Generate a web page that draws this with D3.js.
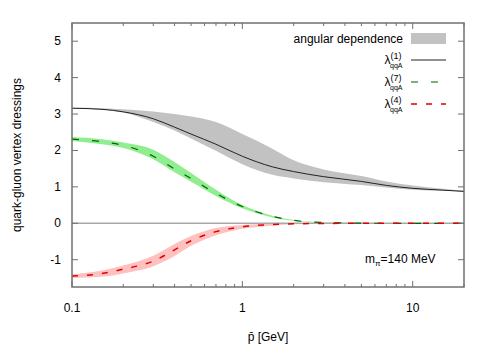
<!DOCTYPE html>
<html>
<head>
<meta charset="utf-8">
<script src="https://cdn.jsdelivr.net/npm/d3@7"></script>
<style>
  body { margin: 0; background: #fff; }
  text { font-family: "Liberation Sans", Arial, sans-serif; fill: #000; }
</style>
</head>
<body>
<svg id="chart" width="500" height="350"></svg>
<script>
// momentum grid [GeV]
const pGrid = [0.1, 0.15, 0.2, 0.3, 0.4, 0.5, 0.7, 1, 1.5, 2, 3, 5, 7, 10, 15, 20];

// lambda^(1) and its angular band
const lambda1   = [3.16, 3.13, 3.06, 2.87, 2.64, 2.45, 2.17, 1.84, 1.55, 1.42, 1.28, 1.15, 1.04, 0.96, 0.91, 0.875];
const lambda1Hi = [3.17, 3.16, 3.13, 3.07, 3.00, 2.93, 2.78, 2.45, 2.05, 1.73, 1.48, 1.30, 1.15, 1.04, 0.95, 0.90];
const lambda1Lo = [3.15, 3.12, 3.04, 2.78, 2.55, 2.33, 1.99, 1.62, 1.33, 1.23, 1.13, 1.05, 0.98, 0.92, 0.89, 0.87];

// lambda^(7)
const lambda7   = [2.31, 2.24, 2.14, 1.84, 1.49, 1.23, 0.82, 0.46, 0.19, 0.08, 0.02, 0.003, 0, 0, 0, 0];
const lambda7Hi = [2.37, 2.31, 2.22, 2.02, 1.68, 1.38, 0.92, 0.50, 0.21, 0.09, 0.025, 0.005, 0, 0, 0, 0];
const lambda7Lo = [2.26, 2.17, 2.07, 1.76, 1.40, 1.14, 0.75, 0.41, 0.16, 0.07, 0.015, 0.002, 0, 0, 0, 0];

// lambda^(4)
const lambda4   = [-1.45, -1.38, -1.26, -1.04, -0.73, -0.48, -0.23, -0.095, -0.035, -0.015, -0.005, 0, 0, 0, 0, 0];
const lambda4Hi = [-1.40, -1.30, -1.16, -0.89, -0.57, -0.35, -0.13, -0.045, -0.012, -0.004, 0, 0, 0, 0, 0, 0];
const lambda4Lo = [-1.50, -1.47, -1.38, -1.18, -0.90, -0.62, -0.33, -0.15, -0.065, -0.03, -0.01, 0, 0, 0, 0, 0];

const xTickLabels = [0.1, 1, 10];
const yTicks = [-1, 0, 1, 2, 3, 4, 5];

const svg = d3.select("#chart"),
      margin = {left: 72, right: 36, top: 23, bottom: 63},
      width = 500 - margin.left - margin.right,
      height = 350 - margin.top - margin.bottom;

const x = d3.scaleLog().domain([0.1, 20]).range([margin.left, margin.left + width]);
const y = d3.scaleLinear().domain([-1.75, 5.5]).range([margin.top + height, margin.top]);

const g = svg.append("g");

function rows(mid, lo, hi) {
    return pGrid.map((p, i) => ({p: p, v: mid[i], lo: lo[i], hi: hi[i]}));
}

const area = d3.area()
    .curve(d3.curveMonotoneX)
    .x(d => x(d.p))
    .y0(d => y(d.lo))
    .y1(d => y(d.hi));

const line = d3.line()
    .curve(d3.curveMonotoneX)
    .x(d => x(d.p))
    .y(d => y(d.v));

const series = [
    {data: rows(lambda1, lambda1Lo, lambda1Hi), band: "#c2c2c2", stroke: "#222", width: 1, dash: null},
    {data: rows(lambda7, lambda7Lo, lambda7Hi), band: "#90ee90", stroke: "#006400", width: 1.2, dash: "7,13"},
    {data: rows(lambda4, lambda4Lo, lambda4Hi), band: "#ffc0c0", stroke: "#e00000", width: 1.5, dash: "6,9"}
];

series.forEach(s => {
    g.append("path").datum(s.data).attr("d", area).attr("fill", s.band);
});

// zero axis
g.append("line")
    .attr("x1", x(0.1)).attr("x2", x(20))
    .attr("y1", y(0)).attr("y2", y(0))
    .attr("stroke", "#a8a8a8").attr("stroke-width", 1.5);

series.forEach(s => {
    g.append("path").datum(s.data).attr("d", line)
        .attr("fill", "none")
        .attr("stroke", s.stroke)
        .attr("stroke-width", s.width)
        .attr("stroke-dasharray", s.dash);
});

// ticks (gnuplot style: inward, mirrored)
const axisColor = "#707070";
const x0 = margin.left, x1 = margin.left + width, y0 = margin.top + height, y1 = margin.top;

const xMinor = [];
[0.1, 1, 10].forEach(dec => {
    for (let k = 1; k < 10; k++) {
        const v = dec * k;
        if (v <= 20) xMinor.push({v: v, major: k === 1});
    }
});

const tickG = svg.append("g").attr("stroke", axisColor).attr("stroke-width", 1);
xMinor.forEach(t => {
    const len = t.major ? 6 : 3;
    tickG.append("line").attr("x1", x(t.v)).attr("x2", x(t.v)).attr("y1", y0).attr("y2", y0 - len);
    tickG.append("line").attr("x1", x(t.v)).attr("x2", x(t.v)).attr("y1", y1).attr("y2", y1 + len);
});
yTicks.forEach(t => {
    tickG.append("line").attr("x1", x0).attr("x2", x0 + 6).attr("y1", y(t)).attr("y2", y(t));
    tickG.append("line").attr("x1", x1).attr("x2", x1 - 6).attr("y1", y(t)).attr("y2", y(t));
});

svg.append("rect")
    .attr("x", x0).attr("y", y1).attr("width", width).attr("height", height)
    .attr("fill", "none").attr("stroke", axisColor).attr("stroke-width", 1.5);

// tick labels
svg.selectAll(".xlab").data(xTickLabels).join("text")
    .attr("x", d => x(d)).attr("y", 312)
    .attr("text-anchor", "middle").style("font-size", "12px")
    .text(d => d);

svg.selectAll(".ylab").data(yTicks).join("text")
    .attr("x", 61).attr("y", d => y(d) + 4)
    .attr("text-anchor", "end").style("font-size", "12px")
    .text(d => d);

// axis titles
svg.append("text")
    .attr("x", (x0 + x1) / 2).attr("y", 341)
    .attr("text-anchor", "middle").style("font-size", "12px")
    .text("p\u0304 [GeV]");

svg.append("text")
    .attr("transform", `translate(21, ${(y0 + y1) / 2}) rotate(-90)`)
    .attr("text-anchor", "middle").style("font-size", "12px")
    .text("quark-gluon vertex dressings");

// legend
const legX1 = 411, legX2 = 446, legTextX = 403;
svg.append("rect").attr("x", legX1).attr("y", 33).attr("width", legX2 - legX1).attr("height", 11)
    .attr("fill", "#c2c2c2");
svg.append("text").attr("x", legTextX).attr("y", 43)
    .attr("text-anchor", "end").style("font-size", "12px")
    .text("angular dependence");

const legendRows = [
    {sup: "(1)", y: 60, s: series[0]},
    {sup: "(7)", y: 82, s: series[1]},
    {sup: "(4)", y: 104, s: series[2]}
];
legendRows.forEach(r => {
    svg.append("line").attr("x1", legX1).attr("x2", legX2).attr("y1", r.y).attr("y2", r.y)
        .attr("stroke", r.s.stroke).attr("stroke-width", r.s.width)
        .attr("stroke-dasharray", r.s.dash);
    svg.append("text").attr("x", 390.5).attr("y", r.y + 4)
        .attr("text-anchor", "end").style("font-size", "12px").text("λ");
    svg.append("text").attr("x", 390.5).attr("y", r.y - 1)
        .style("font-size", "9px").text(r.sup);
    svg.append("text").attr("x", 390).attr("y", r.y + 7.5)
        .style("font-size", "7px").text("qqA");
});

// pion mass label
const mt = svg.append("text").attr("x", 365).attr("y", 263).style("font-size", "12px");
mt.append("tspan").text("m");
mt.append("tspan").attr("dy", 3).style("font-size", "8px").text("π");
mt.append("tspan").attr("dy", -3).text("=140 MeV");
</script>
</body>
</html>
